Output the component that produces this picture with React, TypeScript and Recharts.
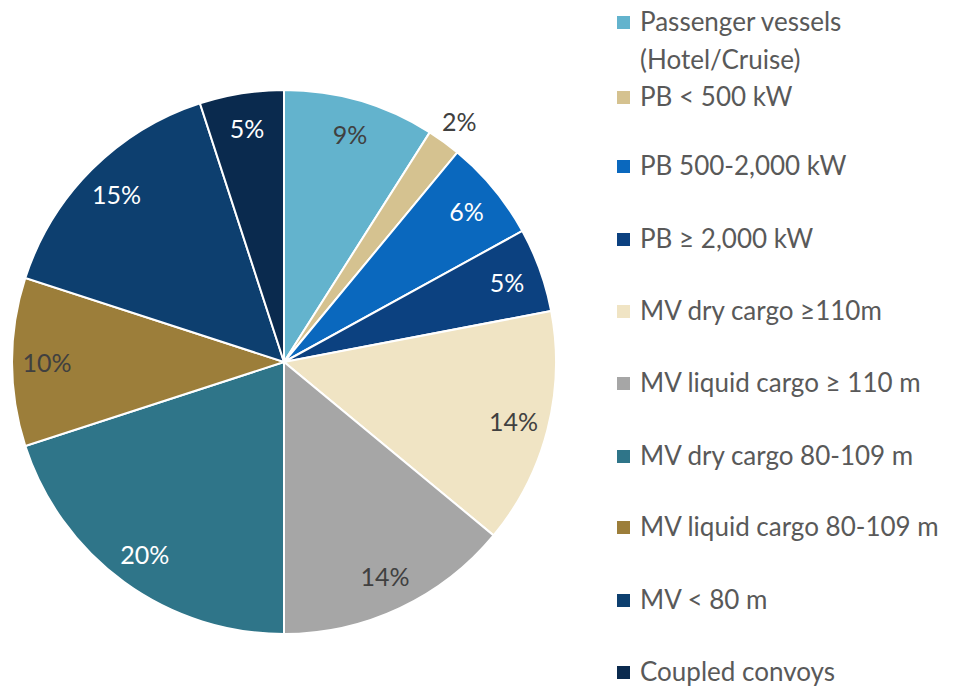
import React from 'react';
import { PieChart, Pie, Cell, Legend } from 'recharts';

const categories = [
  'Passenger vessels (Hotel/Cruise)',
  'PB < 500 kW',
  'PB 500-2,000 kW',
  'PB ≥ 2,000 kW',
  'MV dry cargo ≥110m',
  'MV liquid cargo ≥ 110 m',
  'MV dry cargo 80-109 m',
  'MV liquid cargo 80-109 m',
  'MV < 80 m',
  'Coupled convoys',
];
const shares = [9, 2, 6, 5, 14, 14, 20, 10, 15, 5];

const COLORS = ['#63B3CD', '#D5C290', '#0A68BE', '#0C4180', '#F0E4C4', '#A6A6A6', '#2F7589', '#9C7E3A', '#0D3F6F', '#0A2A4E'];
const LABEL_COLORS = ['#404040', '#404040', '#fff', '#fff', '#404040', '#404040', '#fff', '#404040', '#fff', '#fff'];
// legend row centres (px from top of chart)
const LEGEND_TOPS = [14, 89, 158, 231, 303, 375, 448, 519, 592, 664];

const data = categories.map((name, i) => ({ name, value: shares[i] }));

const RADIAN = Math.PI / 180;

const renderLabel = (props: any) => {
  const { cx, cy, midAngle, outerRadius, index, value } = props;
  const r = value < 3 ? outerRadius + 26 : outerRadius - 35;
  const x = cx + r * Math.cos(-midAngle * RADIAN);
  const y = cy + r * Math.sin(-midAngle * RADIAN);
  return (
    <text x={x} y={y} fill={LABEL_COLORS[index]} textAnchor="middle" dominantBaseline="central"
      fontSize={25} fontFamily="Lato, 'Open Sans', sans-serif">
      {value}%
    </text>
  );
};

const renderLegend = () => (
  <div style={{ position: 'relative', width: 335, height: 680, fontFamily: 'Lato, sans-serif', fontSize: 26, color: '#595959' }}>
    {data.map((d, i) => (
      <div key={d.name} style={{ position: 'absolute', left: 0, top: LEGEND_TOPS[i] - 15, display: 'flex', alignItems: 'flex-start' }}>
        <span style={{ display: 'inline-block', width: 13, height: 13, background: COLORS[i], marginTop: 9, marginRight: 10, flexShrink: 0 }} />
        <span style={{ lineHeight: '30px', width: 310, whiteSpace: 'nowrap', marginTop: -1 }}>
          {i === 0 ? (<>Passenger vessels<br /><span style={{ display: 'inline-block', marginTop: 8 }}>(Hotel/Cruise)</span></>) : d.name}
        </span>
      </div>
    ))}
  </div>
);

export default function App() {
  return (
    <PieChart width={947} height={680} margin={{ top: 0, right: 0, bottom: 0, left: 0 }} style={{ fontFamily: 'Lato, sans-serif' }}>
      <Pie
        data={data}
        dataKey="value"
        nameKey="name"
        cx={276}
        cy={354}
        outerRadius={272}
        startAngle={90}
        endAngle={-270}
        stroke="#fff"
        strokeWidth={2}
        label={renderLabel}
        labelLine={false}
        isAnimationActive={false}
      >
        {data.map((d, i) => (
          <Cell key={d.name} fill={COLORS[i]} />
        ))}
      </Pie>
      <Legend
        content={renderLegend}
        wrapperStyle={{ position: 'absolute', left: 609, top: 0, width: 335, height: 680 }}
      />
    </PieChart>
  );
}
